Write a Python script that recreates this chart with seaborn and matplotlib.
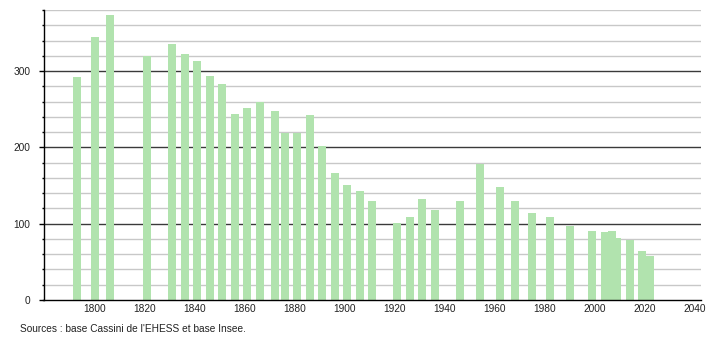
import matplotlib
matplotlib.use("Agg")
import matplotlib.pyplot as plt
from matplotlib.ticker import MultipleLocator
import seaborn as sns
import pandas as pd

years = [1793, 1800, 1806, 1821, 1831, 1836, 1841, 1846, 1851, 1856,
         1861, 1866, 1872, 1876, 1881, 1886, 1891, 1896, 1901, 1906,
         1911, 1921, 1926, 1931, 1936, 1946, 1954, 1962, 1968, 1975,
         1982, 1990, 1999, 2004, 2007, 2009, 2014, 2019, 2022]
population = [292, 344, 374, 320, 336, 322, 313, 294, 283, 244,
              252, 259, 248, 219, 219, 243, 202, 167, 151, 143,
              130, 101, 109, 132, 118, 130, 178, 148, 130, 114,
              109, 97, 90, 89, 91, 81, 79, 64, 58]
x_ticks = [1800, 1820, 1840, 1860, 1880, 1900, 1920, 1940, 1960, 1980, 2000, 2020, 2040]
y_ticks = [0, 100, 200, 300]
source_text = "Sources : base Cassini de l'EHESS et base Insee."

df = pd.DataFrame({"year": years, "pop": population})

sns.set_style("white")
plt.rcParams["font.family"] = ["Liberation Sans", "DejaVu Sans"]

fig = plt.figure(figsize=(7.1, 3.4), dpi=100)
ax = fig.add_axes([43.5 / 710, 40 / 340, (701 - 43.5) / 710, 290 / 340])

# grid lines
for v in range(20, 381, 20):
    if v % 100 == 0:
        ax.axhline(v, color="#3a3a3a", lw=1.0, zorder=0.5)
    else:
        ax.axhline(v, color="#c8c8c8", lw=1.0, zorder=0.5)

sns.barplot(data=df, x="year", y="pop", native_scale=True, width=1.6,
            color="#b1e3ae", saturation=1, errorbar=None, linewidth=0,
            ax=ax, zorder=2)

ax.set_xlim(1779.4, 2042.4)
ax.set_ylim(0, 380)
ax.set_xticks(x_ticks)
ax.set_xticklabels([str(t) for t in x_ticks])
ax.set_yticks(y_ticks)
ax.set_yticklabels([str(t) for t in y_ticks])
ax.yaxis.set_minor_locator(MultipleLocator(20))
ax.set_xlabel("")
ax.set_ylabel("")

for s in ["top", "right"]:
    ax.spines[s].set_visible(False)
for s in ["left", "bottom"]:
    ax.spines[s].set_color("black")
    ax.spines[s].set_linewidth(1.0)

ax.tick_params(axis="x", length=0, pad=3, labelsize=7.3, colors="#222222")
ax.tick_params(axis="y", which="major", left=True, length=3.6, width=1,
               color="black", pad=6, labelsize=7.3, labelcolor="#222222")
ax.tick_params(axis="y", which="minor", left=True, length=1.5, width=1,
               color="black")

fig.text(20 / 710, 1 - 329 / 340, source_text, fontsize=7.3, color="#222222",
         ha="left", va="center")

fig.savefig("out.png", dpi=100)
